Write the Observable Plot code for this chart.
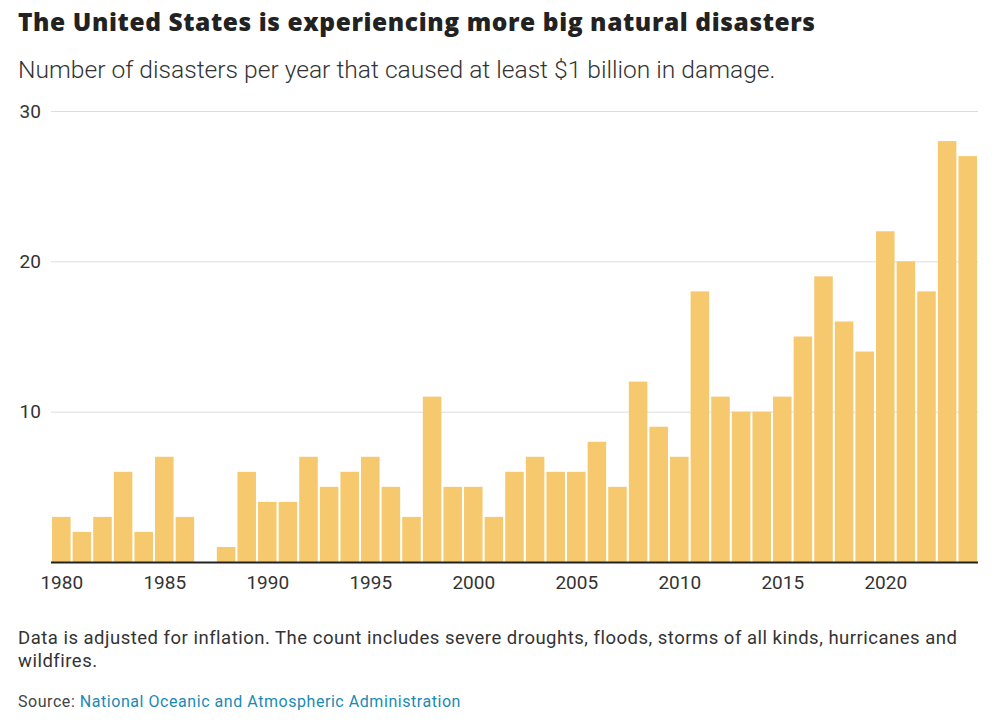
<!DOCTYPE html>
<html>
<head>
<meta charset="utf-8">
<script src="https://cdn.jsdelivr.net/npm/d3@7"></script>
<script src="https://cdn.jsdelivr.net/npm/@observablehq/plot@0.6"></script>
<style>
  body { margin: 0; background: #fff; font-family: Roboto, "Noto Sans", sans-serif; color: #222; }
  #wrap { position: relative; width: 999px; height: 726px; }
  h1 { position: absolute; left: 18px; top: 7px; margin: 0; font-family: "Open Sans", Roboto, sans-serif; font-size: 24.5px; letter-spacing: 0.6px; line-height: 30px; font-weight: 800; color: #222; white-space: nowrap; }
  .sub { position: absolute; left: 18px; top: 56px; margin: 0; font-size: 24.6px; line-height: 28px; font-weight: 300; color: #333; white-space: nowrap; }
  .note { position: absolute; left: 18px; top: 627px; width: 950px; margin: 0; font-size: 18.5px; letter-spacing: 0.5px; line-height: 23px; color: #333; }
  .src { position: absolute; left: 18px; top: 691px; margin: 0; font-size: 16px; letter-spacing: 0.55px; line-height: 22px; color: #444; white-space: nowrap; }
  .src a { color: #1a8ab5; text-decoration: none; }
  #chart { position: absolute; left: 0; top: 96px; }
</style>
</head>
<body>
<div id="wrap">
  <h1>The United States is experiencing more big natural disasters</h1>
  <p class="sub">Number of disasters per year that caused at least $1 billion in damage.</p>
  <div id="chart"></div>
  <p class="note">Data is adjusted for inflation. The count includes severe droughts, floods, storms of all kinds, hurricanes and wildfires.</p>
  <p class="src">Source: <a>National Oceanic and Atmospheric Administration</a></p>
</div>
<script>
const years = d3.range(1980, 2025);
const counts = [3,2,3,6,2,7,3,0,1,6, 4,4,7,5,6,7,5,3,11,5, 5,3,6,7,6,6,8,5,12,9, 7,18,11,10,10,11,15,19,16,14, 22,20,18,28,27];
const yTicks = [10, 20, 30];
const xTicks = [1980, 1985, 1990, 1995, 2000, 2005, 2010, 2015, 2020];

const data = years.map((y, i) => ({year: y, count: counts[i]}));

const chart = Plot.plot({
  width: 999,
  height: 510,
  marginLeft: 51,
  marginRight: 21,
  marginTop: 15,
  marginBottom: 44,
  style: {fontFamily: "Roboto, 'Noto Sans', sans-serif", fontSize: "19px", color: "#333", background: "#fff"},
  x: {type: "band", domain: years, paddingInner: 0.1, paddingOuter: 0.05, align: 0.5, round: false},
  y: {domain: [0, 30]},
  marks: [
    Plot.gridY(yTicks, {stroke: "#ddd", strokeOpacity: 1}),
    Plot.barY(data, {x: "year", y: "count", fill: "#f6c96f"}),
    Plot.ruleY([0], {stroke: "#222", strokeWidth: 2}),
    Plot.axisY({ticks: yTicks, tickSize: 0, textAnchor: "start", dx: -23, label: null, fontSize: 19, fill: "#333"}),
    Plot.axisX({ticks: xTicks, tickSize: 0, tickPadding: 13, tickFormat: d => String(d), label: null, fontSize: 19, fill: "#333"})
  ]
});
document.getElementById("chart").appendChild(chart);
</script>
</body>
</html>
